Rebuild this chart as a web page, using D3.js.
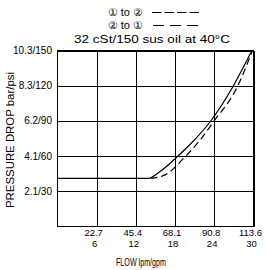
<!DOCTYPE html>
<html>
<head>
<meta charset="utf-8">
<script src="https://cdn.jsdelivr.net/npm/d3@7"></script>
<style>
body{margin:0;background:#fff;}
text{font-family:"Liberation Sans",Arial,sans-serif;fill:#000;}
</style>
</head>
<body>
<div class="container"></div>
<script>
// tick labels
var lpmTicks = [22.7, 45.4, 68.1, 90.8, 113.6];
var gpmTicks = [6, 12, 18, 24, 30];
var psiTicks = [30, 60, 90, 120, 150];
var barTicks = [2.1, 4.1, 6.2, 8.3, 10.3];

// 1 to 2 (solid): flow lpm / pressure psi
var flow12 = [0, 52.6, 59.6, 68.3, 78.2, 88.6, 100.8, 112.1];
var psi12  = [41, 41, 47, 58, 72, 89.5, 117, 148.3];
// 2 to 1 (dashed)
var flow21 = [53.8, 62.4, 73, 81.7, 90.3, 104.3, 113];
var psi21  = [41, 44, 58, 72, 89, 119.3, 150];

var W = 266, H = 270;
var L = 57.5, R = 253.5, T = 50.5, B = 226.5;

var svg = d3.select(".container").append("svg")
	.attr("width", W).attr("height", H);

var x = d3.scaleLinear().domain([0, 113.6]).range([L, R]);
var y = d3.scaleLinear().domain([0, 150]).range([B, T]);

// grid via axes
var gx = svg.append("g")
	.attr("transform", "translate(0," + B + ")")
	.call(d3.axisBottom(x).tickValues(lpmTicks).tickSize(-(B - T)).tickFormat(""));
var gy = svg.append("g")
	.attr("transform", "translate(" + L + ",0)")
	.call(d3.axisLeft(y).tickValues(psiTicks).tickSize(-(R - L)).tickFormat(""));
svg.selectAll(".domain").remove();
svg.selectAll(".tick line")
	.attr("stroke", "#000").attr("stroke-width", 1).attr("shape-rendering", "crispEdges");

svg.append("rect")
	.attr("x", L).attr("y", T).attr("width", R - L).attr("height", B - T)
	.attr("fill", "none").attr("stroke", "#000").attr("stroke-width", 1)
	.attr("shape-rendering", "crispEdges");

// y tick labels
svg.append("g").selectAll("text")
	.data(psiTicks).enter().append("text")
	.attr("x", 52).attr("y", function(d){return y(d);})
	.attr("dy", "0.35em").attr("text-anchor", "end")
	.style("font-size", "10px")
	.text(function(d, i){return barTicks[i] + "/" + d;});

// x tick labels, two rows
svg.append("g").selectAll("text")
	.data(lpmTicks).enter().append("text")
	.attr("x", function(d){return x(d) - 3;}).attr("y", 236)
	.attr("text-anchor", "middle").style("font-size", "9.5px")
	.text(function(d){return d.toFixed(1);});
svg.append("g").selectAll("text")
	.data(gpmTicks).enter().append("text")
	.attr("x", function(d, i){return x(lpmTicks[i]) - 2;}).attr("y", 247)
	.attr("text-anchor", "middle").style("font-size", "9.5px")
	.text(function(d){return d;});

// axis titles
svg.append("text")
	.attr("x", 116).attr("y", 266)
	.attr("textLength", 50).attr("lengthAdjust", "spacingAndGlyphs")
	.style("font-size", "11px").text("FLOW lpm/gpm");
svg.append("text")
	.attr("transform", "translate(14,140) rotate(-90)")
	.attr("text-anchor", "middle")
	.attr("textLength", 136).attr("lengthAdjust", "spacingAndGlyphs")
	.style("font-size", "11.5px").text("PRESSURE DROP bar/psi");

// legend / header
svg.append("text").attr("x", 143).attr("y", 16).attr("text-anchor", "end")
	.style("font-size", "11px").text("\u2460 to \u2461");
svg.append("line").attr("x1", 152).attr("x2", 200).attr("y1", 12.5).attr("y2", 12.5)
	.attr("stroke", "#000").attr("stroke-width", 1).attr("stroke-dasharray", "9.5,3");
svg.append("text").attr("x", 143).attr("y", 29).attr("text-anchor", "end")
	.style("font-size", "11px").text("\u2461 to \u2460");
svg.append("line").attr("x1", 153).attr("x2", 200).attr("y1", 25.5).attr("y2", 25.5)
	.attr("stroke", "#000").attr("stroke-width", 1).attr("stroke-dasharray", "11,6");
svg.append("text").attr("x", 74).attr("y", 43)
	.attr("textLength", 156).attr("lengthAdjust", "spacingAndGlyphs")
	.style("font-size", "11.5px").text("32 cSt/150 sus oil at 40\u00B0C");

// curves
var line = d3.line()
	.x(function(d){return x(d[0]);})
	.y(function(d){return y(d[1]);})
	.curve(d3.curveMonotoneX);

svg.append("path")
	.datum(d3.zip(flow12, psi12))
	.attr("d", line).attr("fill", "none")
	.attr("stroke", "#000").attr("stroke-width", 1.2);
svg.append("path")
	.datum(d3.zip(flow21, psi21))
	.attr("d", line).attr("fill", "none")
	.attr("stroke", "#000").attr("stroke-width", 1.2)
	.attr("stroke-dasharray", "7,4");
</script>
</body>
</html>
